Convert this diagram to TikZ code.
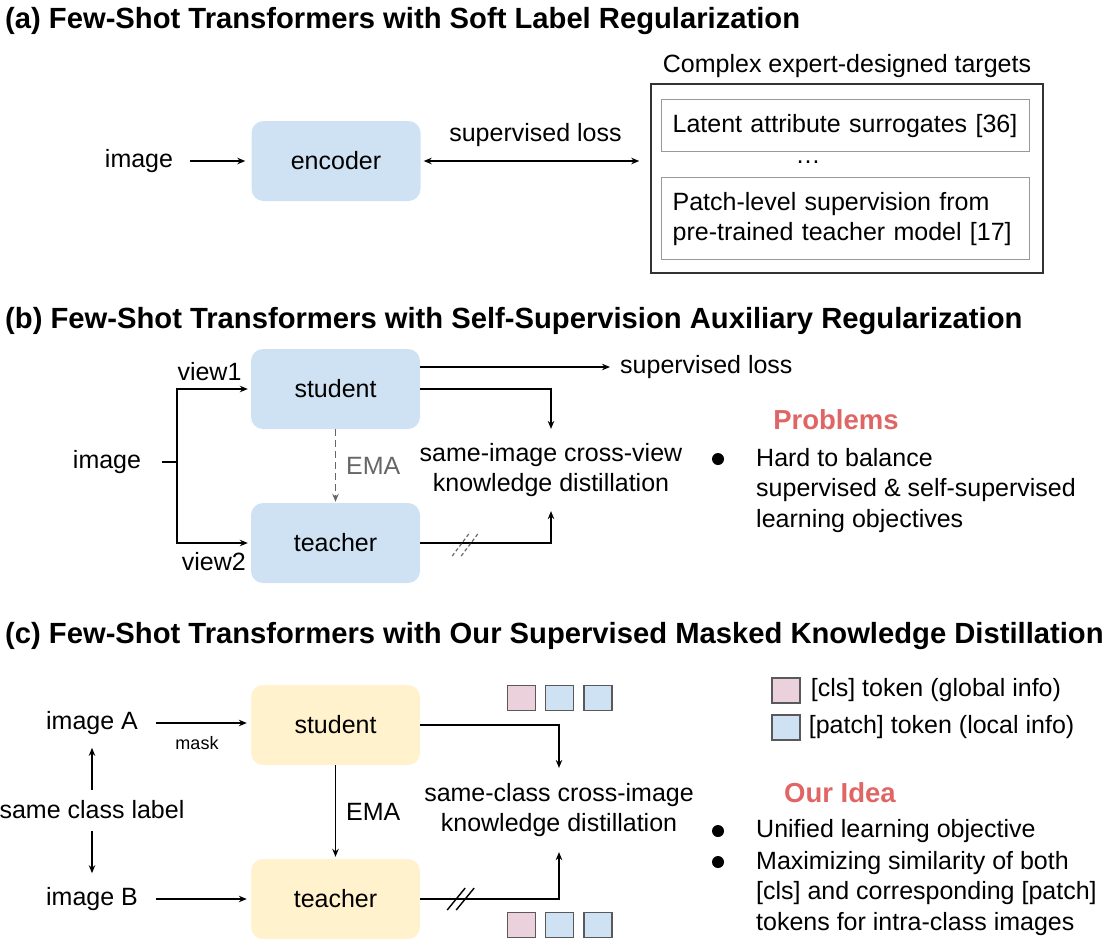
\documentclass[tikz,border=0pt]{standalone}
\usepackage{fontspec}
\setmainfont{Liberation Sans}
\usetikzlibrary{arrows.meta, positioning, calc}
\definecolor{boxBlue}{HTML}{CFE2F3}
\definecolor{boxYellow}{HTML}{FFF2CC}
\definecolor{tokPink}{HTML}{EAD1DC}
\definecolor{tokBlue}{HTML}{CFE2F3}
\definecolor{tokEdge}{HTML}{595959}
\definecolor{ideaRed}{HTML}{E06666}
\definecolor{emaGray}{HTML}{666666}
\definecolor{innerEdge}{HTML}{999999}
\definecolor{outerEdge}{HTML}{333333}
\tikzset{
  arrowK/.style={-{Stealth[length=8pt,width=6.5pt]}, line width=1.4pt},
  arrowKK/.style={{Stealth[length=8pt,width=6.5pt]}-{Stealth[length=8pt,width=6.5pt]}, line width=1.4pt},
  arrowEMA/.style={-{Stealth[length=8pt,width=6.5pt]}, line width=1.4pt, emaGray,
                   dash pattern=on 7pt off 4pt},
  titleT/.style={anchor=base west, inner sep=0pt, font=\bfseries\fontsize{29.2}{34}\selectfont},
  txt/.style={inner sep=0pt, font=\fontsize{25}{30.5}\selectfont},
  smalltxt/.style={inner sep=0pt, font=\fontsize{18}{22}\selectfont},
  headR/.style={inner sep=0pt, text=ideaRed, font=\bfseries\fontsize{27.5}{32}\selectfont},
  boxB/.style={rectangle, rounded corners=12pt, fill=boxBlue, minimum width=169pt,
               minimum height=80pt, font=\fontsize{25}{30}\selectfont},
  boxY/.style={boxB, fill=boxYellow},
  tgtbox/.style={rectangle, draw=innerEdge, line width=1.3pt, anchor=north west,
                 inner xsep=11pt, inner ysep=0pt, text width=346pt, align=left,
                 font=\fontsize{25}{30}\selectfont},
  tokC/.style={rectangle, draw=tokEdge, fill=tokPink, line width=1.3pt,
               minimum width=28pt, minimum height=25pt, inner sep=0pt},
  tokP/.style={tokC, fill=tokBlue},
}
\begin{document}
\begin{tikzpicture}[x=1pt, y=-1pt, node distance=9pt]
  \useasboundingbox (0,0) rectangle (1119,946);

  % (a) soft label regularization
  \node[titleT] (ttlA) at (5,28) {(a) Few-Shot Transformers with Soft Label Regularization};
  \node[txt] (imgA) at (139,161) {image};
  \node[boxB] (enc) at (336,161) {encoder};
  \draw[arrowK, shorten <=17pt, shorten >=6pt] (imgA) -- (enc);
  \node[draw=outerEdge, line width=1.5pt, minimum width=392pt, minimum height=189pt]
    (tgt) at (847,178.5) {};
  \node[txt] (tgtT) at (847,66) {Complex expert-designed targets};
  \node[tgtbox, minimum height=52pt] (latent) at (661,99) {Latent attribute surrogates [36]};
  \node[txt] (dots) at (808,162) {…};
  \node[tgtbox, minimum height=82pt] (patch) at (661,177)
    {Patch-level supervision from\\pre-trained teacher model [17]};
  \draw[arrowKK, shorten <=3pt, shorten >=11pt] (enc) --
    node[txt, midway, above=14pt] (slA) {supervised loss} (enc -| tgt.west);

  % (b) self-supervision auxiliary regularization
  \node[titleT] (ttlB) at (5,328) {(b) Few-Shot Transformers with Self-Supervision Auxiliary Regularization};
  \node[txt] (imgB) at (107,462) {image};
  \coordinate (split) at (177,462);
  \node[boxB] (stu2) at (335.5,389) {student};
  \node[boxB] (tea2) at (335.5,543) {teacher};
  \draw[line width=1.4pt, shorten <=21pt] (imgB) -- (split);
  \draw[arrowK, shorten >=3pt] (split) |- node[txt, pos=0.72, above=8pt] (v1) {view1} (stu2);
  \draw[arrowK, shorten >=3pt] (split) |- node[txt, pos=0.75, below=9pt] (v2) {view2} (tea2);
  \draw[arrowEMA, shorten >=1pt] (stu2) -- node[txt, right=10pt, text=emaGray] (emaB) {EMA} (tea2);
  \node[txt, anchor=west] (slB) at (620,367) {supervised loss};
  \draw[arrowK, shorten >=10pt] ([yshift=22pt]stu2.east) -- (slB.west);
  \node[txt, align=center, inner ysep=14pt] (kd2) at (551,470)
    {same-image cross-view\\knowledge distillation};
  \draw[arrowK] (stu2) -| (kd2.north);
  \draw[arrowK] (tea2) -| (kd2.south);
  \draw[emaGray, line width=1.2pt, dash pattern=on 3.5pt off 2.5pt]
    ($(tea2.east)+(32,13)$) -- ++(18,-24)
    ($(tea2.east)+(41,13)$) -- ++(18,-24);
  \node[headR] (probs) at (836,420) {Problems};
  \fill (718,459) circle (6pt);
  \node[txt, anchor=north west, align=left] (probT) at (756,448)
    {Hard to balance\\supervised \& self-supervised\\learning objectives};

  % (c) supervised masked knowledge distillation
  \node[titleT] (ttlC) at (5,643) {(c) Few-Shot Transformers with Our Supervised Masked Knowledge Distillation};
  \node[txt] (imA) at (92,723) {image A};
  \node[txt] (scl) at (92,810) {same class label};
  \node[txt] (imB) at (92,899) {image B};
  \node[boxY] (stu3) at (335.5,725) {student};
  \node[boxY] (tea3) at (335.5,899) {teacher};
  \draw[arrowK, shorten <=11pt, shorten >=13pt] (scl) -- (imA);
  \draw[arrowK, shorten <=12pt, shorten >=14pt] (scl) -- (imB);
  \draw[arrowK, shorten <=18pt, shorten >=4pt] (imA) -- (imA -| stu3.west);
  \node[smalltxt] (mask) at (197,743) {mask};
  \draw[arrowK, shorten <=18pt, shorten >=4pt] (imB) -- (imB -| tea3.west);
  \draw[arrowK, shorten >=2pt] (stu3) -- node[txt, right=10pt] (emaC) {EMA} (tea3);
  \node[txt, align=center, inner ysep=15pt] (kd3) at (559,810)
    {same-class cross-image\\knowledge distillation};
  \draw[arrowK] (stu3) -| (kd3.north);
  \draw[arrowK] (tea3) -| (kd3.south);
  \draw[line width=1.4pt]
    ($(tea3.east)+(27,11)$) -- ++(18,-22)
    ($(tea3.east)+(36,11)$) -- ++(18,-22);
  \node[tokC] (clsT) at (521.5,698) {};
  \node[tokP, right=of clsT] (patT1) {};
  \node[tokP, right=of patT1] (patT2) {};
  \node[tokC] (clsB) at (521.5,925) {};
  \node[tokP, right=of clsB] (patB1) {};
  \node[tokP, right=of patB1] (patB2) {};
  \node[tokC] (legC) at (786,690.5) {};
  \node[txt, right=10pt of legC] (legCT) {[cls] token (global info)};
  \node[tokP] (legP) at (786,727.5) {};
  \node[txt, right=8pt of legP] (legPT) {[patch] token (local info)};
  \node[headR] (idea) at (840,793) {Our Idea};
  \fill (718,831) circle (6pt);
  \fill (718,862) circle (6pt);
  \node[txt, anchor=north west] (idea1) at (756,819) {Unified learning objective};
  \node[txt, anchor=north west, align=left] (idea2) at (756,851)
    {Maximizing similarity of both\\{}[cls] and corresponding [patch]\\tokens for intra-class images};
\end{tikzpicture}
\end{document}
